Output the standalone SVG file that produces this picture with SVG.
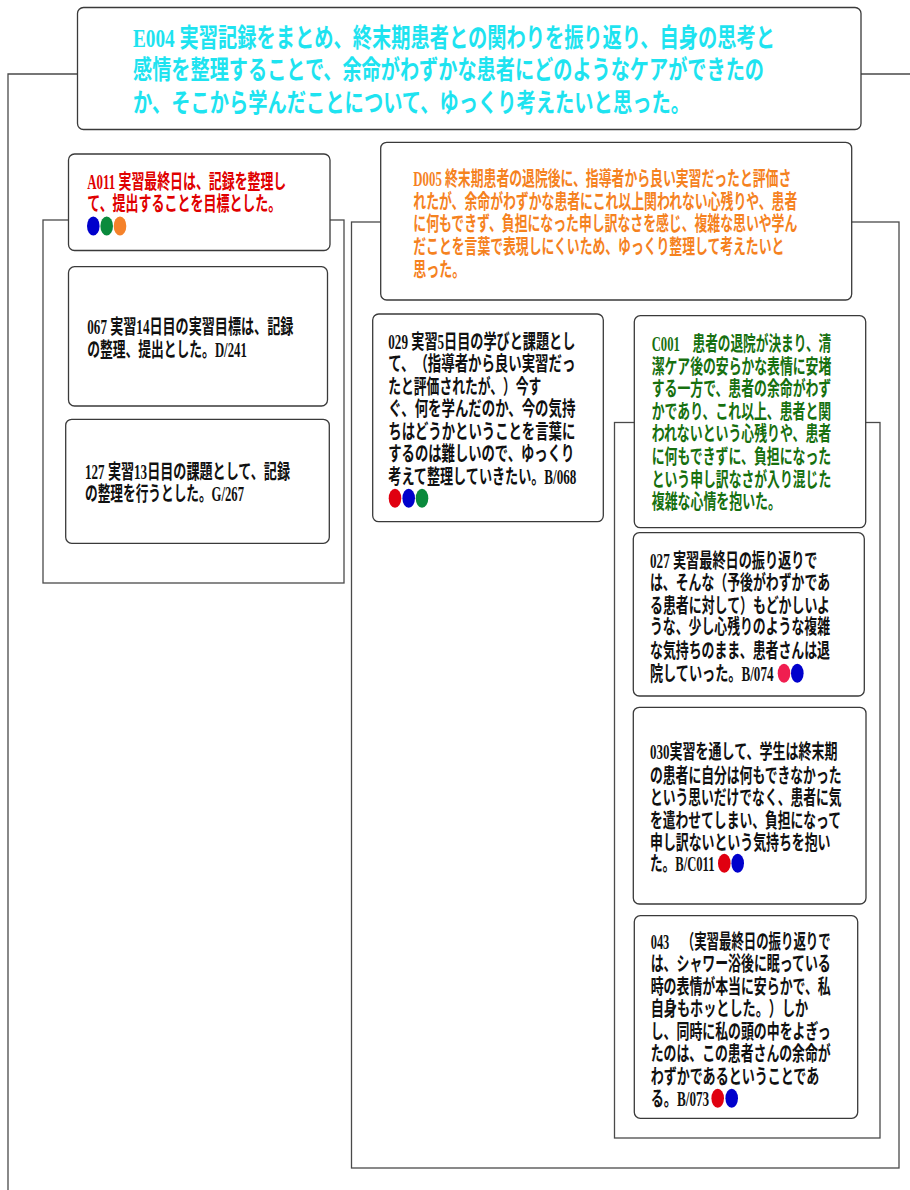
<svg xmlns="http://www.w3.org/2000/svg" width="910" height="1190" viewBox="0 0 910 1190">
<style>
.box{fill:#fff;stroke:#3a3a3a;stroke-width:1.3}
.frame{fill:none;stroke:#4a4a4a;stroke-width:1.3}
text{font-family:"Liberation Serif","Noto Sans CJK JP",serif;font-weight:bold;font-size:20px;text-spacing-trim:space-all}
.top{font-size:26px;fill:#1ee3f0}
.red{fill:#e00000}
.org{fill:#f5821f}
.grn{fill:#17700f}
.blk{fill:#111}
</style>
<rect width="910" height="1190" fill="#fff"/>
<g id="connectors">
<path class="frame" d="M8,1195 V74 H78 M861,74 H915"/>
<rect class="frame" x="43" y="220" width="301" height="363"/>
<rect class="frame" x="351.5" y="222" width="547.5" height="946"/>
<rect class="frame" x="614.5" y="422.5" width="265.5" height="715.5"/>
</g>
<g id="E004">
<rect class="box" x="77.5" y="7.5" width="783.5" height="122" rx="6"/>
<text class="top" transform="translate(133,46.5) scale(0.735,1)" textLength="873.5" lengthAdjust="spacingAndGlyphs">E004 実習記録をまとめ、終末期患者との関わりを振り返り、自身の思考と</text>
<text class="top" transform="translate(133,79) scale(0.735,1)" textLength="858.5" lengthAdjust="spacingAndGlyphs">感情を整理することで、余命がわずかな患者にどのようなケアができたの</text>
<text class="top" transform="translate(133,112) scale(0.735,1)" textLength="757.8" lengthAdjust="spacingAndGlyphs">か、そこから学んだことについて、ゆっくり考えたいと思った。</text>
</g>
<g id="A011">
<rect class="box" x="68.5" y="154" width="261.5" height="96.5" rx="6"/>
<text class="red" transform="translate(87.3,189.3) scale(0.64,1)" textLength="310.9" lengthAdjust="spacingAndGlyphs">A011 実習最終日は、記録を整理し</text>
<text class="red" transform="translate(87.3,211) scale(0.64,1)" textLength="303.1" lengthAdjust="spacingAndGlyphs">て、提出することを目標とした。</text>
<ellipse cx="93.3" cy="226" rx="6.3" ry="9.5" fill="#0000cc"/>
<ellipse cx="106.7" cy="226" rx="6.3" ry="9.5" fill="#0a8a3c"/>
<ellipse cx="120" cy="226" rx="6.3" ry="9.5" fill="#f5822a"/>
</g>
<g id="n067">
<rect class="box" x="68.5" y="266.7" width="259" height="139.3" rx="6"/>
<text class="blk" transform="translate(87.3,334.3) scale(0.64,1)" textLength="321.9" lengthAdjust="spacingAndGlyphs">067 実習14日目の実習目標は、記録</text>
<text class="blk" transform="translate(87.3,357) scale(0.64,1)" textLength="249.2" lengthAdjust="spacingAndGlyphs">の整理、提出とした。D/241</text>
</g>
<g id="n127">
<rect class="box" x="65.7" y="419.3" width="263.6" height="124" rx="6"/>
<text class="blk" transform="translate(85,479.3) scale(0.64,1)" textLength="320.3" lengthAdjust="spacingAndGlyphs">127 実習13日目の課題として、記録</text>
<text class="blk" transform="translate(85,501) scale(0.64,1)" textLength="248.4" lengthAdjust="spacingAndGlyphs">の整理を行うとした。G/267</text>
</g>
<g id="D005">
<rect class="box" x="380.7" y="142.3" width="471" height="157.7" rx="6"/>
<text class="org" transform="translate(413.3,186) scale(0.64,1)" textLength="590.6" lengthAdjust="spacingAndGlyphs">D005 終末期患者の退院後に、指導者から良い実習だったと評価さ</text>
<text class="org" transform="translate(413.3,208.6) scale(0.64,1)" textLength="600" lengthAdjust="spacingAndGlyphs">れたが、余命がわずかな患者にこれ以上関われない心残りや、患者</text>
<text class="org" transform="translate(413.3,231) scale(0.64,1)" textLength="600" lengthAdjust="spacingAndGlyphs">に何もできず、負担になった申し訳なさを感じ、複雑な思いや学ん</text>
<text class="org" transform="translate(413.3,253.6) scale(0.64,1)" textLength="579.7" lengthAdjust="spacingAndGlyphs">だことを言葉で表現しにくいため、ゆっくり整理して考えたいと</text>
<text class="org" transform="translate(413.3,277) scale(0.64,1)" textLength="81.25" lengthAdjust="spacingAndGlyphs">思った。</text>
</g>
<g id="n029">
<rect class="box" x="372.7" y="314" width="230.6" height="207.7" rx="6"/>
<text class="blk" transform="translate(388.3,349.3) scale(0.64,1)" textLength="292.2" lengthAdjust="spacingAndGlyphs">029 実習5日目の学びと課題とし</text>
<text class="blk" transform="translate(388.3,371) scale(0.64,1)" textLength="292.2" lengthAdjust="spacingAndGlyphs">て、（指導者から良い実習だっ</text>
<text class="blk" transform="translate(388.3,393.6) scale(0.64,1)" textLength="239.1" lengthAdjust="spacingAndGlyphs">たと評価されたが、）今す</text>
<text class="blk" transform="translate(388.3,416) scale(0.64,1)" textLength="292.2" lengthAdjust="spacingAndGlyphs">ぐ、何を学んだのか、今の気持</text>
<text class="blk" transform="translate(388.3,439.3) scale(0.64,1)" textLength="292.2" lengthAdjust="spacingAndGlyphs">ちはどうかということを言葉に</text>
<text class="blk" transform="translate(388.3,461) scale(0.64,1)" textLength="290.6" lengthAdjust="spacingAndGlyphs">するのは難しいので、ゆっくり</text>
<text class="blk" transform="translate(388.3,484.3) scale(0.64,1)" textLength="293.8" lengthAdjust="spacingAndGlyphs">考えて整理していきたい。B/068</text>
<ellipse cx="395" cy="498.3" rx="6.3" ry="9.5" fill="#e00010"/>
<ellipse cx="408.7" cy="498.3" rx="6.3" ry="9.5" fill="#0000cc"/>
<ellipse cx="422" cy="498.3" rx="6.3" ry="9.5" fill="#0a8a3c"/>
</g>
<g id="C001">
<rect class="box" x="634.3" y="315.7" width="231.4" height="212" rx="6"/>
<text class="grn" transform="translate(651.7,350.9) scale(0.64,1)" textLength="280.5" lengthAdjust="spacingAndGlyphs">C001　患者の退院が決まり、清</text>
<text class="grn" transform="translate(651.7,373.5) scale(0.64,1)" textLength="280.5" lengthAdjust="spacingAndGlyphs">潔ケア後の安らかな表情に安堵</text>
<text class="grn" transform="translate(651.7,396.2) scale(0.64,1)" textLength="280.5" lengthAdjust="spacingAndGlyphs">する一方で、患者の余命がわず</text>
<text class="grn" transform="translate(651.7,418.8) scale(0.64,1)" textLength="280.5" lengthAdjust="spacingAndGlyphs">かであり、これ以上、患者と関</text>
<text class="grn" transform="translate(651.7,441.4) scale(0.64,1)" textLength="280.5" lengthAdjust="spacingAndGlyphs">われないという心残りや、患者</text>
<text class="grn" transform="translate(651.7,464.1) scale(0.64,1)" textLength="280.5" lengthAdjust="spacingAndGlyphs">に何もできずに、負担になった</text>
<text class="grn" transform="translate(651.7,486.7) scale(0.64,1)" textLength="280.5" lengthAdjust="spacingAndGlyphs">という申し訳なさが入り混じた</text>
<text class="grn" transform="translate(651.7,509.3) scale(0.64,1)" textLength="202" lengthAdjust="spacingAndGlyphs">複雑な心情を抱いた。</text>
</g>
<g id="n027">
<rect class="box" x="633.3" y="532.7" width="231" height="163.3" rx="6"/>
<text class="blk" transform="translate(650,567.6) scale(0.64,1)" textLength="261.7" lengthAdjust="spacingAndGlyphs">027 実習最終日の振り返りで</text>
<text class="blk" transform="translate(650,590.3) scale(0.64,1)" textLength="281.25" lengthAdjust="spacingAndGlyphs">は、そんな（予後がわずかであ</text>
<text class="blk" transform="translate(650,612.6) scale(0.64,1)" textLength="281.25" lengthAdjust="spacingAndGlyphs">る患者に対して）もどかしいよ</text>
<text class="blk" transform="translate(650,634.3) scale(0.64,1)" textLength="281.25" lengthAdjust="spacingAndGlyphs">うな、少し心残りのような複雑</text>
<text class="blk" transform="translate(650,657.6) scale(0.64,1)" textLength="281.25" lengthAdjust="spacingAndGlyphs">な気持ちのまま、患者さんは退</text>
<text class="blk" transform="translate(650,681) scale(0.64,1)" textLength="193" lengthAdjust="spacingAndGlyphs">院していった。B/074</text>
<ellipse cx="784" cy="673.3" rx="6.3" ry="9.5" fill="#f01e50"/>
<ellipse cx="797.3" cy="673.3" rx="6.3" ry="9.5" fill="#0000cc"/>
</g>
<g id="n030">
<rect class="box" x="633.3" y="707.3" width="232.7" height="196.7" rx="6"/>
<text class="blk" transform="translate(650,759.3) scale(0.64,1)" textLength="293" lengthAdjust="spacingAndGlyphs">030実習を通して、学生は終末期</text>
<text class="blk" transform="translate(650,782.6) scale(0.64,1)" textLength="299.2" lengthAdjust="spacingAndGlyphs">の患者に自分は何もできなかった</text>
<text class="blk" transform="translate(650,805) scale(0.64,1)" textLength="299.2" lengthAdjust="spacingAndGlyphs">という思いだけでなく、患者に気</text>
<text class="blk" transform="translate(650,827.6) scale(0.64,1)" textLength="298.4" lengthAdjust="spacingAndGlyphs">を遣わせてしまい、負担になって</text>
<text class="blk" transform="translate(650,850.3) scale(0.64,1)" textLength="282" lengthAdjust="spacingAndGlyphs">申し訳ないという気持ちを抱い</text>
<text class="blk" transform="translate(650,871) scale(0.64,1)" textLength="100.8" lengthAdjust="spacingAndGlyphs">た。B/C011</text>
<ellipse cx="724.3" cy="863.3" rx="6.3" ry="9.5" fill="#e00010"/>
<ellipse cx="737.7" cy="863.3" rx="6.3" ry="9.5" fill="#0000cc"/>
</g>
<g id="n043">
<rect class="box" x="634.3" y="915.7" width="223.4" height="202.6" rx="6"/>
<text class="blk" transform="translate(650.7,949.3) scale(0.64,1)" textLength="281.25" lengthAdjust="spacingAndGlyphs">043　（実習最終日の振り返りで</text>
<text class="blk" transform="translate(650.7,971) scale(0.64,1)" textLength="281.25" lengthAdjust="spacingAndGlyphs">は、シャワー浴後に眠っている</text>
<text class="blk" transform="translate(650.7,993.6) scale(0.64,1)" textLength="281.25" lengthAdjust="spacingAndGlyphs">時の表情が本当に安らかで、私</text>
<text class="blk" transform="translate(650.7,1016) scale(0.64,1)" textLength="246.1" lengthAdjust="spacingAndGlyphs">自身もホッとした。）しか</text>
<text class="blk" transform="translate(650.7,1038.6) scale(0.64,1)" textLength="281.25" lengthAdjust="spacingAndGlyphs">し、同時に私の頭の中をよぎっ</text>
<text class="blk" transform="translate(650.7,1061) scale(0.64,1)" textLength="281.25" lengthAdjust="spacingAndGlyphs">たのは、この患者さんの余命が</text>
<text class="blk" transform="translate(650.7,1083.6) scale(0.64,1)" textLength="263.3" lengthAdjust="spacingAndGlyphs">わずかであるということであ</text>
<text class="blk" transform="translate(650.7,1106) scale(0.64,1)" textLength="91.4" lengthAdjust="spacingAndGlyphs">る。B/073</text>
<ellipse cx="717.7" cy="1098.3" rx="6.3" ry="9.5" fill="#e00010"/>
<ellipse cx="731.7" cy="1098.3" rx="6.3" ry="9.5" fill="#0000cc"/>
</g>
</svg>
